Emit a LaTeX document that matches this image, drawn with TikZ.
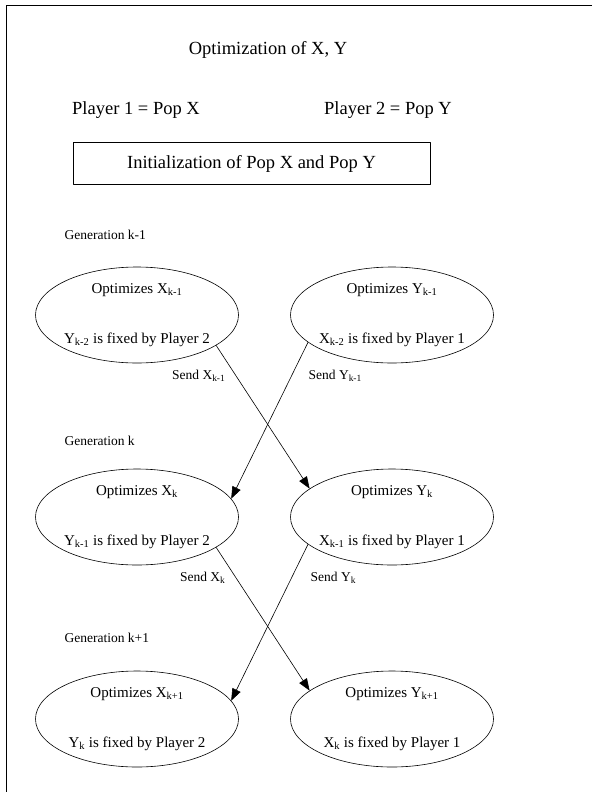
\documentclass[tikz,border=0pt]{standalone}
\usepackage{fontspec}
\setmainfont{Liberation Serif}
\usetikzlibrary{shapes.geometric,arrows.meta}
\begin{document}
\begin{tikzpicture}[x=1pt,y=-1pt,font=\fontsize{15}{17}\selectfont,line join=round,semithick,>={Triangle[length=12pt,width=9pt]}]
	\tikzset{pop/.style={ellipse,draw,minimum width=203pt,minimum height=96pt,inner xsep=-40pt,inner ysep=-10pt,align=center},
		gen/.style={font=\fontsize{13.5}{16}\selectfont,anchor=west},
		big/.style={font=\fontsize{18.5}{22}\selectfont}}
	\useasboundingbox (0,0) rectangle (592,792);
	\draw (592,5)--(6,5)--(6,792);
	\node[big] (title) at (268,50) {Optimization of X, Y};
	\node[big] (pl1) at (136,110) {Player 1 = Pop X};
	\node[big] (pl2) at (388,110) {Player 2 = Pop Y};
	\node[big,draw,minimum width=357pt,minimum height=42pt] (init) at (251.5,163.5) {Initialization of Pop X and Pop Y};
	\node[gen] (g1) at (61,235) {Generation k-1};
	\node[gen] (g2) at (61,441) {Generation k};
	\node[gen] (g3) at (61,638) {Generation k+1};
	\node[pop] (L1) at (137,315) {Optimizes X\textsubscript{k-1}\\[33pt]Y\textsubscript{k-2} is fixed by Player 2};
	\node[pop] (R1) at (392,315) {Optimizes Y\textsubscript{k-1}\\[33pt]X\textsubscript{k-2} is fixed by Player 1};
	\node[pop] (L2) at (137,517) {Optimizes X\textsubscript{k}\\[33pt]Y\textsubscript{k-1} is fixed by Player 2};
	\node[pop] (R2) at (392,517) {Optimizes Y\textsubscript{k}\\[33pt]X\textsubscript{k-1} is fixed by Player 1};
	\node[pop] (L3) at (137,719) {Optimizes X\textsubscript{k+1}\\[33pt]Y\textsubscript{k} is fixed by Player 2};
	\node[pop] (R3) at (392,719) {Optimizes Y\textsubscript{k+1}\\[33pt]X\textsubscript{k} is fixed by Player 1};
	\node[gen,anchor=east] (sx1) at (229,376) {Send X\textsubscript{k-1}};
	\node[gen] (sy1) at (305,376) {Send Y\textsubscript{k-1}};
	\node[gen,anchor=east] (sx2) at (229,578) {Send X\textsubscript{k}};
	\node[gen] (sy2) at (307,578) {Send Y\textsubscript{k}};
	\foreach \a/\b in {1/2,2/3}{
		\draw[->] (L\a.-21)--(R\b.161);
		\draw[->] (R\a.-162)--(L\b.11);
	}
\end{tikzpicture}
\end{document}
